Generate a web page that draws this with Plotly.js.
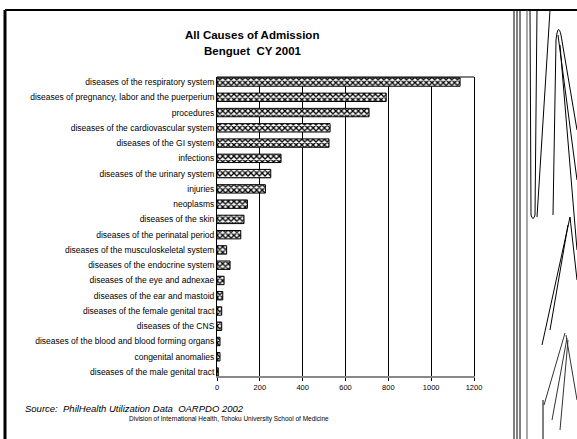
<!DOCTYPE html>
<html>
<head>
<meta charset="utf-8">
<script src="https://cdn.plot.ly/plotly-3.0.1.min.js"></script>
<style>
html,body{margin:0;padding:0;background:#fff;}
#chart{width:577px;height:439px;}
#chart svg text{opacity:0.995;}
</style>
</head>
<body>
<div id="chart"></div>
<script>
var categories = [
  "diseases of the respiratory system",
  "diseases of pregnancy, labor and the puerperium",
  "procedures",
  "diseases of the cardiovascular system",
  "diseases of the GI system",
  "infections",
  "diseases of the urinary system",
  "injuries",
  "neoplasms",
  "diseases of the skin",
  "diseases of the perinatal period",
  "diseases of the musculoskeletal system",
  "diseases of the endocrine system",
  "diseases of the eye and adnexae",
  "diseases of the ear and mastoid",
  "diseases of the female genital tract",
  "diseases of the CNS",
  "diseases of the blood and blood forming organs",
  "congenital anomalies",
  "diseases of the male genital tract"
];
var admissions = [1135, 790, 710, 528, 523, 299, 251, 226, 142, 126, 111, 45, 61, 33, 27, 22, 22, 14, 14, 6];
var tickValues = [0, 200, 400, 600, 800, 1000, 1200];
var tickLabels = ["0", "200", "400", "600", "800", "1000", "1200"];

// plot area in pixels
var L = 217, R = 474, T = 77, B = 376;
function px(x) { return (x - L) / (R - L); }
function py(y) { return (B - y) / (B - T); }
function P(x, y) { return px(x) + ',' + py(y); }

var trace = {
  type: 'bar',
  orientation: 'h',
  y: categories,
  x: admissions,
  width: 0.55,
  marker: {
    color: 'white',
    line: {color: 'black', width: 1},
    pattern: {shape: 'x', fgcolor: 'black', bgcolor: 'white', size: 4, solidity: 0.55}
  },
  hoverinfo: 'x+y'
};

var font = "Liberation Sans, Arial, sans-serif";

function ln(x0, y0, x1, y1, c, w) {
  return {type: 'line', xref: 'paper', yref: 'paper', x0: px(x0), x1: px(x1), y0: py(y0), y1: py(y1), line: {color: c, width: w}};
}
function path(d, c, w) {
  return {type: 'path', xref: 'paper', yref: 'paper', path: d, line: {color: c, width: w}};
}

var shapes = [
  ln(L, T, R, T, 'black', 1),
  // scanned page border decorations
  ln(5, 10, 577, 10, 'black', 2),
  ln(5, 10, 5, 439, 'black', 3),
  ln(514, 10, 514, 439, 'black', 1),
  ln(517, 10, 517, 439, 'black', 1),
  ln(520, 10, 520, 439, 'black', 1),
  ln(527, 10, 527, 439, '#555', 1),
  path('M' + P(530, 10) + ' L' + P(531, 215) + ' Q' + P(533, 222) + ' ' + P(535, 215) + ' L' + P(537, 10), 'black', 1),
  path('M' + P(550, 10) + ' L' + P(537, 217), 'black', 1),
  path('M' + P(553, 215) + ' L' + P(556, 40) + ' Q' + P(558, 22) + ' ' + P(561, 35) + ' L' + P(577, 130), 'black', 1),
  path('M' + P(558, 35) + ' L' + P(577, 180) + ' M' + P(560, 45) + ' L' + P(577, 250), 'black', 1),
  path('M' + P(570, 217) + ' L' + P(542, 345) + ' M' + P(568, 225) + ' L' + P(550, 330) + ' M' + P(570, 217) + ' L' + P(577, 280), 'black', 1),
  path('M' + P(565, 333) + ' L' + P(544, 405) + ' M' + P(567, 338) + ' L' + P(552, 420) + ' M' + P(568, 340) + ' L' + P(560, 430) + ' M' + P(566, 335) + ' L' + P(577, 400), '#333', 1),
  ln(543, 400, 543, 439, 'black', 1)
];

var annotations = [
  {xref: 'paper', yref: 'paper', x: px(252), y: py(35), text: '<b>All Causes of Admission</b>', showarrow: false, font: {family: font, size: 11.5, color: 'black'}, xanchor: 'center', yanchor: 'middle'},
  {xref: 'paper', yref: 'paper', x: px(253), y: py(51), text: '<b>Benguet  CY 2001</b>', showarrow: false, font: {family: font, size: 11.5, color: 'black'}, xanchor: 'center', yanchor: 'middle'},
  {xref: 'paper', yref: 'paper', x: px(23), y: py(408), text: '<i>Source:  PhilHealth Utilization Data  OARPDO 2002</i>', showarrow: false, font: {family: font, size: 9.5, color: 'black'}, xanchor: 'left', yanchor: 'middle'},
  {xref: 'paper', yref: 'paper', x: px(229), y: py(419), text: 'Division of International Health, Tohoku University School of Medicine', showarrow: false, font: {family: font, size: 6.5, color: 'black'}, xanchor: 'center', yanchor: 'middle'}
];

var layout = {
  width: 577, height: 439,
  margin: {l: L, r: 577 - R, t: T, b: 439 - B, pad: 0},
  paper_bgcolor: 'white', plot_bgcolor: 'white',
  showlegend: false,
  xaxis: {
    range: [0, 1200],
    tickvals: tickValues, ticktext: tickLabels,
    showgrid: true, gridcolor: 'black', gridwidth: 1,
    zeroline: false,
    showline: true, linecolor: '#888', linewidth: 2,
    ticks: 'outside', ticklen: 3, tickcolor: 'black',
    tickfont: {family: font, size: 7.5, color: 'black'}
  },
  yaxis: {
    type: 'category',
    range: [19.26, -0.33],
    showgrid: false, zeroline: false,
    showline: true, linecolor: 'black', linewidth: 1, mirror: true,
    ticks: '', ticklen: 0,
    automargin: false,
    tickfont: {family: font, size: 8.5, color: 'black'}
  },
  shapes: shapes,
  annotations: annotations
};

Plotly.newPlot('chart', [trace], layout, {displayModeBar: false, staticPlot: true});
</script>
</body>
</html>
